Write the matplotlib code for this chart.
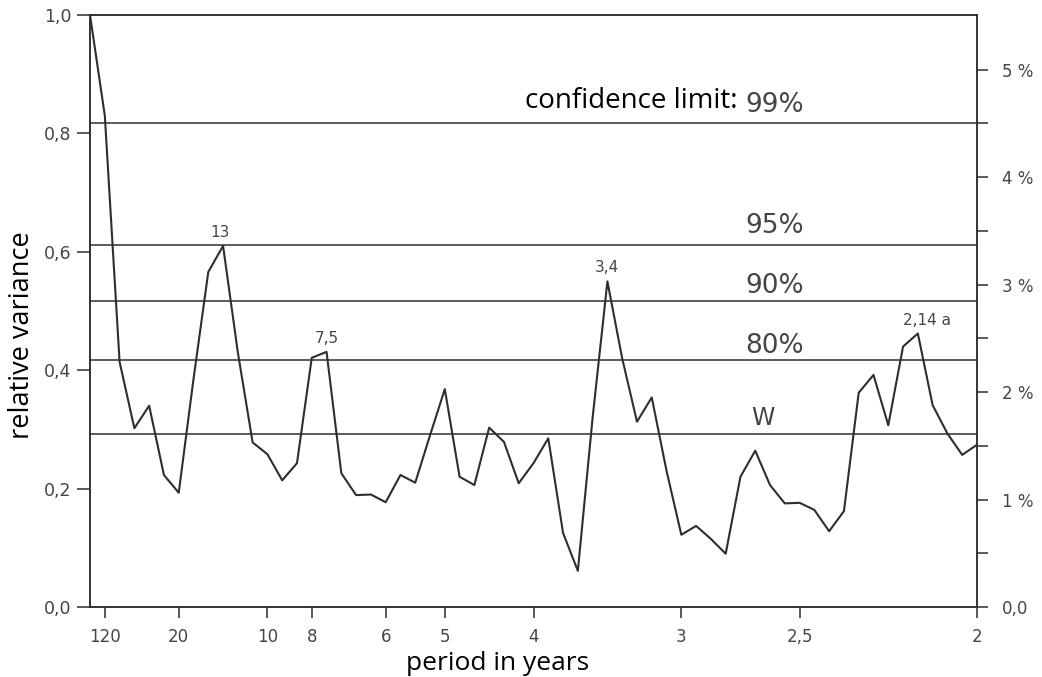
import numpy as np
from matplotlib import pyplot as plt
from matplotlib.ticker import FixedLocator

# spectrum of a 120 year record: harmonic number k -> frequency k / 120 per year
record_length = 120
harmonics = np.arange(0, 61)
relative_variance = [
    1.00, 0.83, 0.414, 0.302, 0.340, 0.223, 0.193, 0.385, 0.566, 0.610,
    0.43, 0.278, 0.258, 0.214, 0.243, 0.421, 0.431, 0.226, 0.189, 0.190,
    0.177, 0.223, 0.210, 0.29, 0.368, 0.220, 0.206, 0.303, 0.279, 0.209,
    0.243, 0.285, 0.125, 0.061, 0.32, 0.550, 0.42, 0.313, 0.354, 0.23,
    0.122, 0.137, 0.115, 0.090, 0.220, 0.264, 0.206, 0.175, 0.176, 0.164,
    0.128, 0.162, 0.362, 0.392, 0.307, 0.440, 0.462, 0.341, 0.293, 0.257,
    0.274,
]

# confidence limits and white noise level
limit_names = ['99%', '95%', '90%', '80%', 'W']
limit_values = [0.817, 0.611, 0.517, 0.417, 0.293]
limit_text_y = [0.836, 0.632, 0.530, 0.429, 0.307]

# period ticks (years)
period_ticks = [120, 20, 10, 8, 6, 5, 4, 3, 2.5, 2]
period_labels = ['120', '20', '10', '8', '6', '5', '4', '3', '2,5', '2']

# peaks that get a label
peak_labels = ['13', '7,5', '3,4', '2,14 a']
peak_harmonics = [9, 16, 35, 56]
peak_shift = [-0.002, 0.0, 0.0, 0.005]

# right axis: share of total variance in %
percent_ticks = [0, 1, 2, 3, 4, 5]
percent_labels = ['0,0', '1 %', '2 %', '3 %', '4 %', '5 %']
percent_per_unit = 5.507  # percent at relative variance 1.0

INK = '#2e2e2e'
GREY = '#454545'

freq = harmonics / record_length

fig = plt.figure(figsize=(10.42, 6.77), dpi=100)
ax = fig.add_axes([0.0864, 0.1034, 0.8512, 0.8744])

ax.plot(freq, relative_variance, color=INK, lw=1.5)
for value in limit_values:
    ax.axhline(value, color=INK, lw=1.1)

ax.set_xlim(0, 0.5)
ax.set_ylim(0, 1.0)

ax.set_xticks([1 / p for p in period_ticks])
ax.set_xticklabels(period_labels)
ax.set_yticks(np.arange(0, 1.01, 0.2))
ax.set_yticklabels(['0,0', '0,2', '0,4', '0,6', '0,8', '1,0'])

ax.tick_params(axis='x', direction='out', length=8, width=1.1, color=INK,
               labelsize=12, labelcolor=GREY, pad=7)
ax.tick_params(axis='y', direction='out', length=9.5, width=1.1, color=INK,
               labelsize=12.5, labelcolor=GREY, pad=4)
for spine in ax.spines.values():
    spine.set_color(INK)
    spine.set_linewidth(1.1)

ax2 = ax.twinx()
ax2.set_ylim(0, percent_per_unit)
ax2.set_yticks(percent_ticks)
ax2.set_yticklabels(percent_labels)
ax2.yaxis.set_minor_locator(FixedLocator(np.array(percent_ticks[:-1]) + 0.5))
ax2.tick_params(axis='y', which='both', direction='out', length=8, width=1.1,
                color=INK, labelsize=12, labelcolor=GREY, pad=10)
for spine in ax2.spines.values():
    spine.set_color(INK)
    spine.set_linewidth(1.1)

# peak labels
for text, k, dx in zip(peak_labels, peak_harmonics, peak_shift):
    ax.text(freq[k] + dx, relative_variance[k] + 0.01, text,
            ha='center', va='bottom', fontsize=11, color=GREY)

# confidence limit labels
for name, ty in zip(limit_names, limit_text_y):
    if name == 'W':
        ax.text(0.3795, ty, name, ha='center', va='baseline',
                fontsize=17, color=GREY)
    else:
        ax.text(0.3695, ty, name, ha='left', va='baseline',
                fontsize=19, color=GREY)
ax.text(0.3649, 0.843, 'confidence limit:', ha='right',
        va='baseline', fontsize=20, family='Open Sans', color='black')

ax.set_xlabel('period in years', fontsize=19, family='Open Sans',
              color='black')
ax.xaxis.set_label_coords(0.459, -0.075)
ax.set_ylabel('relative variance', fontsize=19.5, family='Open Sans',
              color='black')
ax.yaxis.set_label_coords(-0.061, 0.459)

fig.savefig('out.png', dpi=100)
